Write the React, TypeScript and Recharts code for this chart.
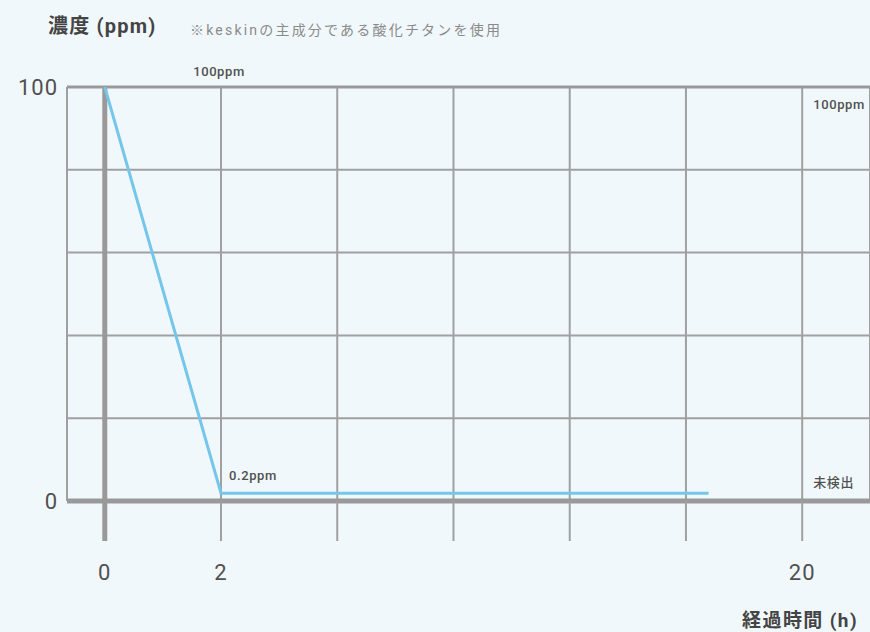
import React from "react";
import {CartesianGrid, Label, Line, LineChart, ReferenceDot, ReferenceLine, XAxis, YAxis} from "recharts";

// elapsed time (h) vs concentration (ppm)
const hours = [0, 2, 17.1];
const ppm = [100, 0.2, 0.2];

// vertical grid columns in hours and the labels printed under them
const hourGrid = [0, 2, 5.6, 9.2, 12.8, 16.4, 20];
const hourLabels = ["0", "2", "", "", "", "", "20"];
const ppmLabels = [0, 100];

const data = hours.map((h, i) => ({h, ppm: ppm[i]}));

const W = 870;
const H = 632;
const bg = "#f1f8fc";
const gridGray = "#a0a0a0";
const axisGray = "#999999";
const lineBlue = "#74c6ea";
const textGray = "#505050";
const font = "Roboto, 'Noto Sans CJK JP', sans-serif";

// minimal d3-like scale that spaces values through a warp function
const makeScale = (warp: (v: number) => number, unwarp: (u: number) => number) => {
    let dom = [0, 1];
    let rng = [0, 1];
    const scale: any = (v: number) => {
        const a = warp(dom[0]);
        const b = warp(dom[1]);
        return rng[0] + ((warp(v) - a) / (b - a)) * (rng[1] - rng[0]);
    };
    scale.domain = (d?: any[]) => {
        if (d === undefined) return dom.slice();
        dom = [Number(d[0]), Number(d[d.length - 1])];
        return scale;
    };
    scale.range = (r?: any[]) => {
        if (r === undefined) return rng.slice();
        rng = [Number(r[0]), Number(r[r.length - 1])];
        return scale;
    };
    scale.invert = (px: number) => {
        const a = warp(dom[0]);
        const b = warp(dom[1]);
        return unwarp(a + ((px - rng[0]) / (rng[1] - rng[0])) * (b - a));
    };
    scale.ticks = (n = 5) => {
        const a = warp(dom[0]);
        const b = warp(dom[1]);
        return Array.from({length: n + 1}, (_, i) => unwarp(a + ((b - a) * i) / n));
    };
    scale.tickFormat = () => (v: number) => String(v);
    scale.copy = () => makeScale(warp, unwarp).domain(dom).range(rng);
    return scale;
};

// hours -> grid column (piecewise linear between the grid hours)
const hourToCol = (h: number) => {
    let i = 1;
    while (i < hourGrid.length - 1 && h > hourGrid[i]) i++;
    const a = hourGrid[i - 1];
    const b = hourGrid[i];
    return i - 1 + (h - a) / (b - a);
};
const colToHour = (c: number) => {
    const i = Math.min(Math.max(Math.floor(c), 0), hourGrid.length - 2);
    const a = hourGrid[i];
    const b = hourGrid[i + 1];
    return a + (c - i) * (b - a);
};

// concentration is drawn on a power curve so the low end stays readable
const ppmPower = 0.64;
const ppmWarp = (v: number) => Math.sign(v) * Math.pow(Math.abs(v), ppmPower);
const ppmUnwarp = (u: number) => Math.sign(u) * Math.pow(Math.abs(u), 1 / ppmPower);

const xScale = makeScale(hourToCol, colToHour);
const yScale = makeScale(ppmWarp, ppmUnwarp);
const ppmGrid = [0, 1, 2, 3, 4, 5].map((i) => ppmUnwarp((ppmWarp(100) * i) / 5));

const HourTick = (props: any) => {
    const {x, y, index} = props;
    const origin = index === 0;
    return (
        <g>
            <line x1={x} x2={x} y1={y} y2={y + 40}
                  stroke={origin ? axisGray : gridGray}
                  strokeWidth={origin ? 5 : 2}
            />
            <text x={x} y={y + 79} textAnchor="middle" fill={textGray}
                  fontSize={22} fontFamily={font} letterSpacing={1}
            >
                {hourLabels[index]}
            </text>
        </g>
    );
};

const pinLabel = (text: string, dx: number, dy: number, anchor: string, size = 13) => (p: any) => (
    <text x={p.viewBox.x + dx} y={p.viewBox.y + dy} textAnchor={anchor} fill={textGray}
          fontSize={size} fontWeight={500} fontFamily={font} letterSpacing={0.6}
    >
        {text}
    </text>
);

const App = () => {
    return (
        <div style={{position: "absolute", left: 0, top: 0, width: W, height: H, background: bg, fontFamily: font, overflow: "hidden"}}>
            <div style={{position: "absolute", left: 48, top: 10, fontSize: 20, fontWeight: 700, color: "#444", letterSpacing: 1.2}}>
                濃度 (ppm)
            </div>
            <div style={{position: "absolute", left: 190, top: 19, fontSize: 14, color: "#8a8a8a", letterSpacing: 2.2}}>
                ※keskinの主成分である酸化チタンを使用
            </div>
            <LineChart width={W}
                       height={H}
                       data={data}
                       margin={{top: 87, right: 0, bottom: 0, left: 0}}
                       style={{position: "absolute", left: 0, top: 0}}
            >
                <CartesianGrid stroke={gridGray}
                               strokeWidth={2}
                />
                <XAxis dataKey="h"
                       type="number"
                       scale={xScale}
                       domain={[-0.65, 22.1]}
                       allowDataOverflow
                       ticks={hourGrid}
                       interval={0}
                       height={131}
                       tickSize={0}
                       tickMargin={0}
                       tick={<HourTick/>}
                       axisLine={{stroke: axisGray, strokeWidth: 5}}
                >
                    <Label content={() => (
                        <text x={858} y={627} textAnchor="end" fill="#444" fontSize={19}
                              fontWeight={700} fontFamily={font} letterSpacing={1.4}
                        >
                            経過時間 (h)
                        </text>
                    )}/>
                </XAxis>
                <YAxis type="number"
                       scale={yScale}
                       domain={[0, 100]}
                       allowDataOverflow
                       ticks={ppmGrid}
                       interval={0}
                       width={67}
                       tickSize={0}
                       tickMargin={9}
                       axisLine={false}
                       tickFormatter={(v: number) => {
                           const hit = ppmLabels.find((l) => Math.abs(l - v) < 1e-6);
                           return hit === undefined ? "" : String(hit);
                       }}
                       tick={{fill: textGray, fontSize: 22, fontFamily: font, letterSpacing: 1}}
                />
                <ReferenceLine y={100} stroke={axisGray} strokeWidth={3}/>
                <ReferenceLine x={0} stroke={axisGray} strokeWidth={5}/>
                <Line dataKey="ppm"
                      type="linear"
                      stroke={lineBlue}
                      strokeWidth={3}
                      dot={false}
                      activeDot={false}
                      isAnimationActive={false}
                />
                <ReferenceDot x={2} y={100} r={0} stroke="none" fill="none"
                              label={{content: pinLabel("100ppm", -2, -11, "middle")}}
                />
                <ReferenceDot x={2} y={0.2} r={0} stroke="none" fill="none"
                              label={{content: pinLabel("0.2ppm", 8, -13, "start")}}
                />
                <ReferenceDot x={20} y={100} r={0} stroke="none" fill="none"
                              label={{content: pinLabel("100ppm", 11, 22, "start")}}
                />
                <ReferenceDot x={20} y={0} r={0} stroke="none" fill="none"
                              label={{content: pinLabel("未検出", 11, -14, "start")}}
                />
            </LineChart>
        </div>
    );
};

export default App;
